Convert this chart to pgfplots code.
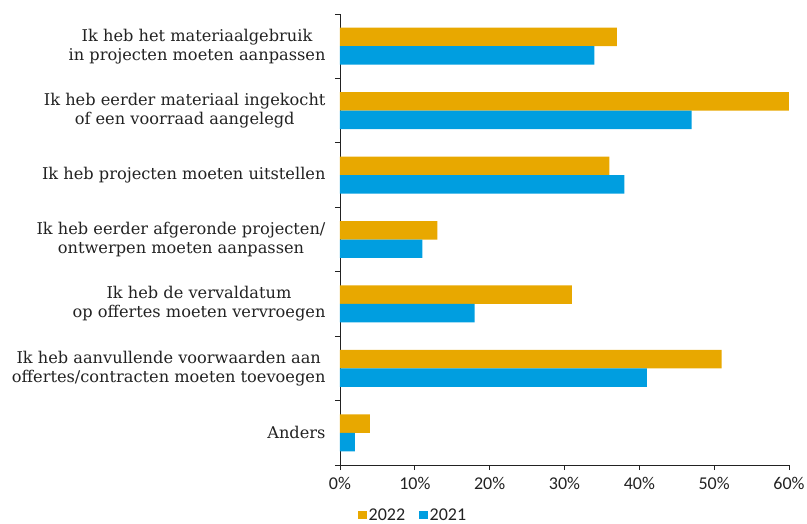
\documentclass[border=0pt]{standalone}
\usepackage{fontspec}
\usepackage{pgfplots}
\pgfplotsset{compat=1.18}
\setmainfont{DejaVu Serif}
\newfontfamily\tickfont{Carlito}
\definecolor{cgold}{HTML}{E8A800}
\definecolor{cblue}{HTML}{009EE0}
\definecolor{ctext}{HTML}{222222}
\begin{document}
\begin{tikzpicture}
\begin{axis}[
  name=ax,
  scale only axis,
  width=449pt, height=451pt,
  xbar,
  y dir=reverse,
  xmin=0, xmax=60,
  ymin=-0.5, ymax=6.5,
  axis x line*=bottom,
  axis y line*=left,
  axis line style={ctext, line width=0.9pt},
  xtick={0,10,...,60},
  xticklabel={\pgfmathprintnumber{\tick}\%},
  xticklabel style={font=\tickfont\fontsize{18}{20}\selectfont, text=ctext, yshift=-4pt},
  x tick style={ctext, line width=0.9pt},
  tick align=outside,
  major tick length=5pt,
  ytick={0,...,6},
  y tick style={draw=none},
  yticklabels={
    {Ik heb het materiaalgebruik\\in projecten moeten aanpassen},
    {Ik heb eerder materiaal ingekocht\\of een voorraad aangelegd},
    {Ik heb projecten moeten uitstellen},
    {Ik heb eerder afgeronde projecten/\\ontwerpen moeten aanpassen},
    {Ik heb de vervaldatum\\op offertes moeten vervroegen},
    {Ik heb aanvullende voorwaarden aan\\offertes/contracten moeten toevoegen},
    {Anders}},
  yticklabel style={align=center, font=\fontsize{16.2}{19}\selectfont, text=ctext, xshift=-6pt},
  extra y ticks={-0.5,0.5,...,6.5},
  extra y tick labels={},
  extra y tick style={y tick style={draw=ctext, line width=0.9pt}},
  /pgf/number format/assume math mode=true,
  bar width=0.287,
  legend columns=2,
  legend style={draw=none, fill=none, at={(0.163,-0.111)}, anchor=center,
    font=\tickfont\fontsize{18}{20}\selectfont, text=ctext,
    /tikz/every even column/.append style={column sep=12pt}},
  legend image code/.code={\fill[#1] (0pt,-4pt) rectangle (8.5pt,4.5pt);},
]
\addplot[fill=cgold, draw=none, bar shift=-0.1435] coordinates {
  (37,0) (60,1) (36,2) (13,3) (31,4) (51,5) (4,6)};
\addplot[fill=cblue, draw=none, bar shift=0.1435] coordinates {
  (34,0) (47,1) (38,2) (11,3) (18,4) (41,5) (2,6)};
\legend{2022,2021}
\end{axis}
\pgfresetboundingbox
\path[use as bounding box] ([xshift=-340pt,yshift=-59pt]ax.south west) rectangle ([xshift=467pt,yshift=465pt]ax.south west);
\end{tikzpicture}
\end{document}
